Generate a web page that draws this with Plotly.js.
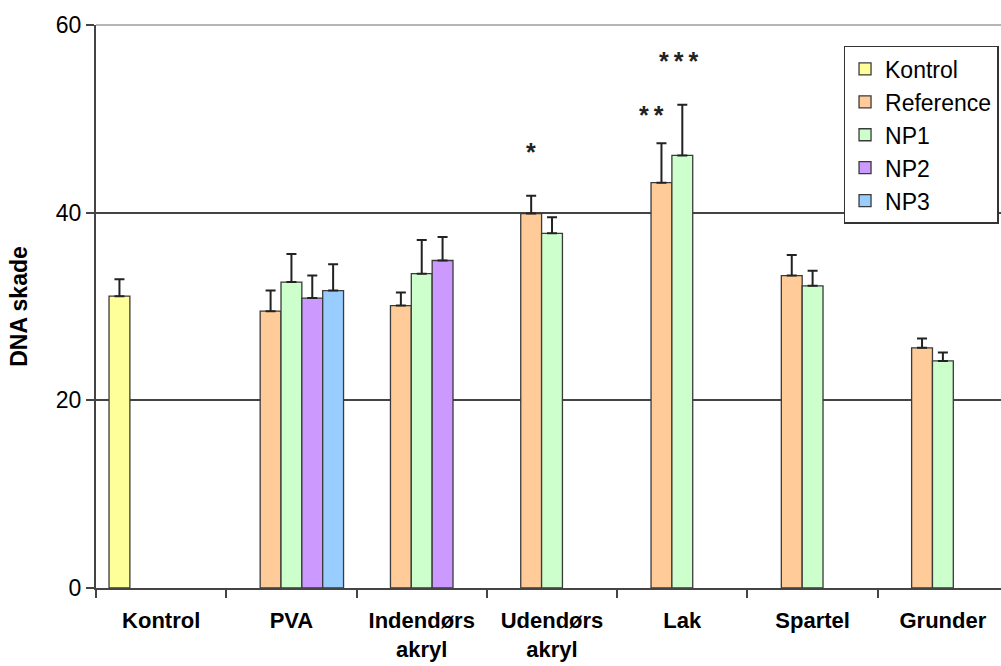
<!DOCTYPE html>
<html>
<head>
<meta charset="utf-8">
<script src="https://cdn.plot.ly/plotly-3.0.1.min.js"></script>
<style>html,body{margin:0;padding:0;background:#fff;overflow:hidden;}#chart{width:1001px;height:666px;}</style>
</head>
<body>
<div id="chart"></div>
<script>
const categories = ['Kontrol', 'PVA', 'Indendørs<br>akryl', 'Udendørs<br>akryl', 'Lak', 'Spartel', 'Grunder'];
const seriesNames = ['Kontrol', 'Reference', 'NP1', 'NP2', 'NP3'];
const kontrolVals = [31.1, null, null, null, null, null, null];
const kontrolErr  = [1.8, null, null, null, null, null, null];
const referenceVals = [null, 29.5, 30.1, 39.9, 43.2, 33.3, 25.6];
const referenceErr  = [null, 2.2, 1.4, 1.9, 4.2, 2.2, 1.0];
const np1Vals = [null, 32.6, 33.5, 37.8, 46.1, 32.2, 24.2];
const np1Err  = [null, 3.0, 3.6, 1.7, 5.4, 1.6, 0.9];
const np2Vals = [null, 30.9, 34.9, null, null, null, null];
const np2Err  = [null, 2.4, 2.5, null, null, null, null];
const np3Vals = [null, 31.7, null, null, null, null, null];
const np3Err  = [null, 2.8, null, null, null, null, null];
const referenceSig = ['', '', '', '*', '**', '', ''];
const np1Sig = ['', '', '', '', '***', '', ''];
const yTicks = [0, 20, 40, 60];

const colors = ['#FFFF99', '#FFCC99', '#CCFFCC', '#CC99FF', '#99CCFF'];
const vals = [kontrolVals, referenceVals, np1Vals, np2Vals, np3Vals];
const errs = [kontrolErr, referenceErr, np1Err, np2Err, np3Err];
const FONT = 'Liberation Sans, Arial, sans-serif';

const traces = seriesNames.map((name, i) => ({
  type: 'bar',
  name: name,
  x: categories,
  y: vals[i],
  marker: {color: colors[i], line: {color: '#3a3a3a', width: 1.3}},
  error_y: {type: 'data', symmetric: false, array: errs[i], arrayminus: errs[i].map(() => 0),
            color: '#222', thickness: 2, width: 5},
  legendgroup: name,
  hoverinfo: 'skip'
}));

const nSeries = seriesNames.length;
const bargap = 0.2;
const slotW = (1 - bargap) / nSeries;
function slotX(catIdx, seriesIdx) { return catIdx + (seriesIdx - (nSeries - 1) / 2) * slotW; }

const annotations = [];
function addSig(sigArr, seriesIdx, valArr, errArr, shifts) {
  sigArr.forEach((s, k) => {
    if (!s) return;
    const sh = shifts[k] || {x: 0, y: 0};
    annotations.push({
      x: slotX(k, seriesIdx), y: valArr[k] + errArr[k], xref: 'x', yref: 'y',
      text: s.split('').join('\u2009'), showarrow: false, yanchor: 'bottom', xanchor: 'center',
      xshift: sh.x, yshift: sh.y,
      font: {family: FONT, size: 25, color: '#222', weight: 'bold'}
    });
  });
}
addSig(referenceSig, 1, referenceVals, referenceErr, {3: {x: 0, y: 28}, 4: {x: -10, y: 12}});
addSig(np1Sig, 2, np1Vals, np1Err, {4: {x: -4, y: 28}});

const layout = {
  width: 1001, height: 666,
  margin: {l: 96, r: 0, t: 25, b: 78},
  paper_bgcolor: '#fff', plot_bgcolor: '#fff',
  barmode: 'group', bargap: bargap, bargroupgap: 0,
  showlegend: true,
  legend: {x: 0.826, y: 0.9627, xanchor: 'left', yanchor: 'top',
           bgcolor: '#fff', bordercolor: '#333', borderwidth: 1.5,
           font: {family: FONT, size: 23, color: '#000'}, traceorder: 'normal',
           tracegroupgap: 0},
  xaxis: {
    type: 'category', range: [-0.5, 6.446],
    showline: true, linecolor: '#444', linewidth: 2,
    ticks: 'outside', tickson: 'boundaries', ticklen: 8, tickwidth: 2, tickcolor: '#444',
    showgrid: false, zeroline: false,
    tickfont: {family: FONT, size: 22, color: '#000', weight: 'bold'},
    ticklabelstandoff: 12
  },
  yaxis: {
    range: [0, 60], tickvals: yTicks, ticktext: yTicks.map(String),
    showline: true, linecolor: '#444', linewidth: 2,
    ticks: 'outside', ticklen: 8, tickwidth: 2, tickcolor: '#444',
    showgrid: true, gridcolor: '#444', gridwidth: 2, zeroline: false,
    tickfont: {family: FONT, size: 23, color: '#000'},
    title: {text: 'DNA skade', font: {family: FONT, size: 23, color: '#000', weight: 'bold'}, standoff: 22}
  },
  shapes: [{type: 'line', xref: 'paper', yref: 'paper', x0: 0, x1: 1, y0: 1, y1: 1,
            line: {color: '#b5b5b5', width: 2}, layer: 'above'}],
  annotations: annotations
};

Plotly.newPlot('chart', traces, layout, {displayModeBar: false, staticPlot: true});
</script>
</body>
</html>
